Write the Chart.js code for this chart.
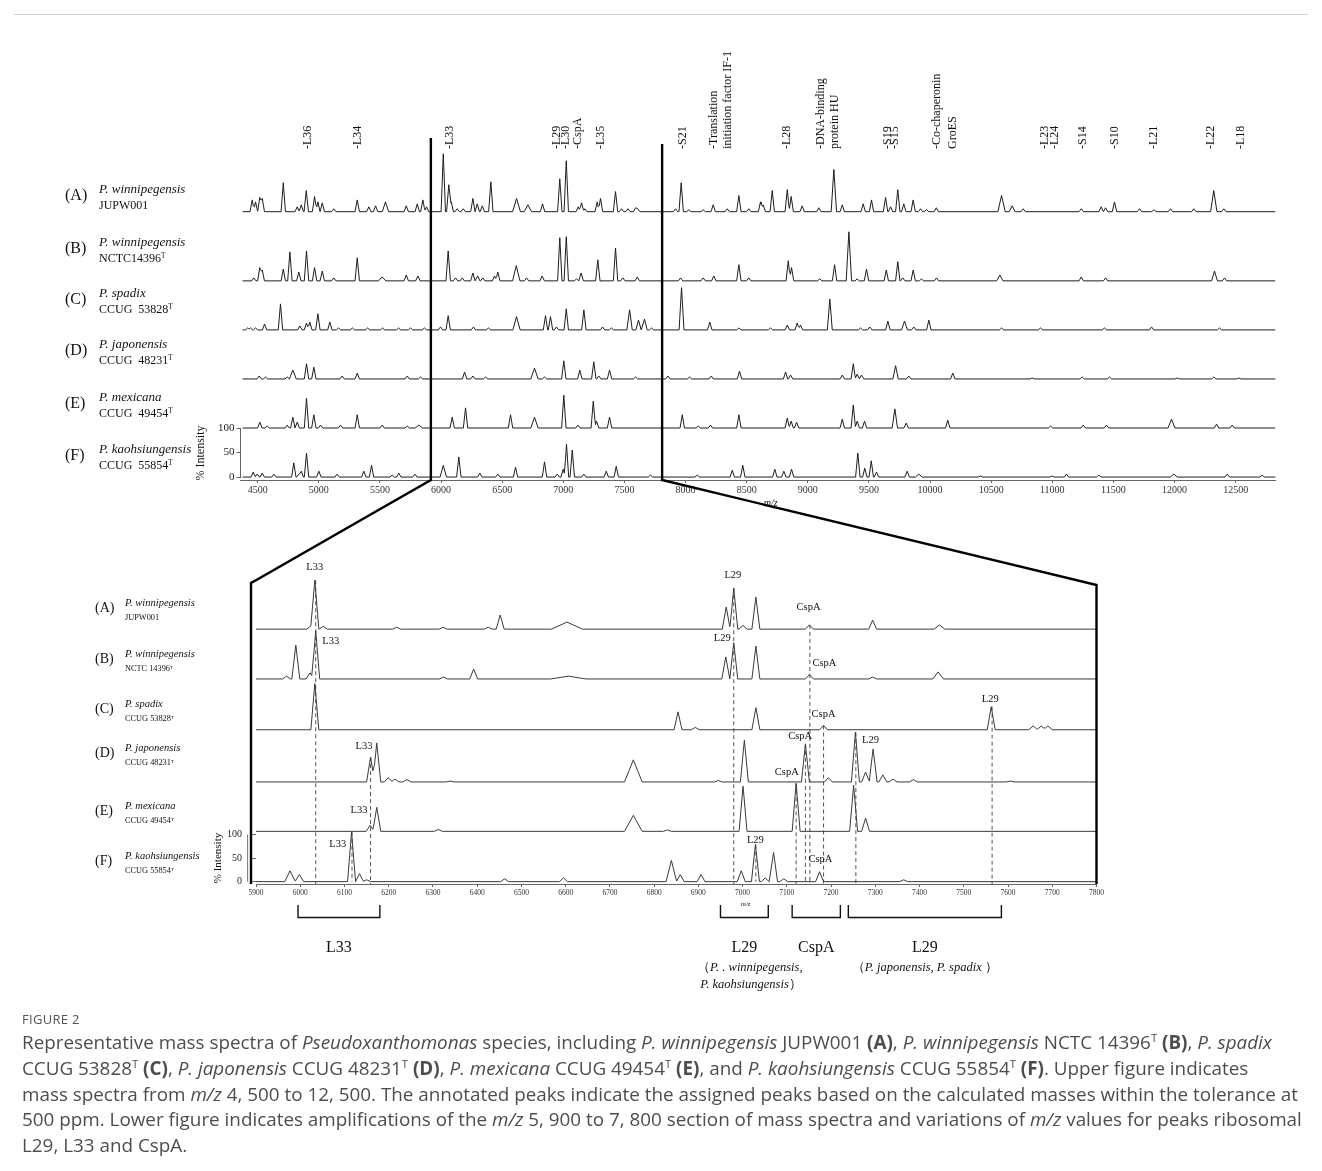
<!DOCTYPE html>
<html>
<head>
<meta charset="utf-8">
<script src="https://cdn.jsdelivr.net/npm/chart.js@4.4.1/dist/chart.umd.min.js"></script>
<style>
html,body{margin:0;padding:0;background:#fff;}
body{width:1322px;height:1171px;position:relative;overflow:hidden;}
canvas{position:absolute;}
.t{position:absolute;white-space:nowrap;font-family:"Liberation Serif","Times New Roman",serif;color:#111;line-height:1;}
.i{font-style:italic;}
.t sup{font-size:0.6em;vertical-align:0.5em;line-height:0;}
#cap{position:absolute;left:22px;top:1030px;font-family:"Open Sans",sans-serif;font-size:18.85px;line-height:25.8px;color:#4d4d4d;white-space:nowrap;}
#cap sup{font-size:0.6em;vertical-align:0.6em;line-height:0;}
#fig{position:absolute;left:22px;top:1011px;font-family:"Open Sans",sans-serif;font-size:13px;color:#555;letter-spacing:0.3px;line-height:16px;}
#topline{position:absolute;left:14px;top:14px;width:1294px;height:0;border-top:1px solid #d0d0d0;}
#ov{position:absolute;left:0;top:0;}
</style>
</head>
<body>
<div id="topline"></div>
<canvas id="cu" width="1100" height="400"></canvas>
<canvas id="cl" width="1000" height="380"></canvas>
<svg id="ov" width="1322" height="1171"></svg>
<div id="fig">FIGURE 2</div>
<div id="cap">Representative mass spectra of <i>Pseudoxanthomonas</i> species, including <i>P. winnipegensis</i> JUPW001 <b>(A)</b>, <i>P. winnipegensis</i> NCTC 14396<sup>T</sup> <b>(B)</b>, <i>P. spadix</i><br>CCUG 53828<sup>T</sup> <b>(C)</b>, <i>P. japonensis</i> CCUG 48231<sup>T</sup> <b>(D)</b>, <i>P. mexicana</i> CCUG 49454<sup>T</sup> <b>(E)</b>, and <i>P. kaohsiungensis</i> CCUG 55854<sup>T</sup> <b>(F)</b>. Upper figure indicates<br>mass spectra from <i>m/z</i> 4, 500 to 12, 500. The annotated peaks indicate the assigned peaks based on the calculated masses within the tolerance at<br>500 ppm. Lower figure indicates amplifications of the <i>m/z</i> 5, 900 to 7, 800 section of mass spectra and variations of <i>m/z</i> values for peaks ribosomal<br>L29, L33 and CspA.</div>
<script>
// ---------------- DATA ----------------
const rowTags = ['(A)','(B)','(C)','(D)','(E)','(F)'];
const species = ['P. winnipegensis','P. winnipegensis','P. spadix','P. japonensis','P. mexicana','P. kaohsiungensis'];
const upperIds = ['JUPW001','NCTC14396<sup>T</sup>','CCUG&nbsp; 53828<sup>T</sup>','CCUG&nbsp; 48231<sup>T</sup>','CCUG&nbsp; 49454<sup>T</sup>','CCUG&nbsp; 55854<sup>T</sup>'];
const lowerIds = ['JUPW001','NCTC 14396<sup>T</sup>','CCUG 53828<sup>T</sup>','CCUG 48231<sup>T</sup>','CCUG 49454<sup>T</sup>','CCUG 55854<sup>T</sup>'];

// upper figure: m/z range and ticks, row offsets (in % intensity units)
const upperRange = [4359, 12826];
const upperTicks = [4500,5000,5500,6000,6500,7000,7500,8000,8500,9000,9500,10000,10500,11000,11500,12000,12500];
const upperOffsets = [541,400,300,200,100,0];
const intensityTicks = [0,50,100];

// peaks: [m/z, % intensity, optional half-width]
const upperA = [[4455,24],[4482,20],[4517,29],[4537,27],[4709,59],[4823,10],[4856,14],[4897,43],[4965,31],[4992,20],[5028,18],[5122,6],[5314,24],[5409,10],[5464,12],[5545,20,26],[5715,12],[5805,16],[5851,24],[5881,10],[6018,118],[6063,55],[6083,20],[6132,6],[6181,6],[6260,27],[6296,16],[6337,12],[6407,61],[6617,27,32],[6710,14,30],[6830,16],[6971,67],[7024,104],[7122,10],[7149,18],[7176,6],[7277,20],[7304,27],[7427,41],[7476,6],[7528,6],[7591,8],[7609,6],[7918,6],[7964,59],[8027,4],[8144,4],[8226,14],[8341,6],[8436,33],[8517,6],[8613,20],[8635,14],[8709,43],[8832,45],[8864,31],[8954,12],[9090,8],[9213,86,22],[9282,14],[9453,16],[9521,24],[9636,29],[9677,10],[9736,45],[9785,16],[9862,24],[9922,6],[9971,4],[10051,8],[10585,33,30],[10672,12,24],[10762,6],[11237,6],[11400,10],[11436,8],[11509,20],[11714,6],[11831,4],[11967,6],[12158,6],[12321,43,26],[12403,6]];
const upperB = [[4468,6],[4517,27],[4537,22],[4709,24],[4763,59],[4836,18],[4899,61],[4965,27],[5028,20],[5122,6],[5314,47],[5518,8,30],[5715,12],[5810,10],[6058,61],[6118,6],[6173,6],[6260,16],[6300,10],[6341,6],[6437,10],[6464,18],[6615,31,30],[6699,6],[6827,10],[6971,88],[7024,90],[7108,4],[7146,16],[7282,43],[7427,67],[7487,6],[7605,8],[7959,6],[8144,6],[8231,10],[8436,33],[8517,6],[8840,41],[8867,27],[9098,4],[9219,33],[9336,100,22],[9404,4],[9480,24],[9642,22],[9736,39],[9777,6],[9862,22],[9930,4],[10053,6],[10571,12,26],[11237,8],[11436,6],[12327,20,24],[12409,6]];
const upperC = [[4417,4],[4441,4],[4482,4],[4556,12],[4686,53],[4844,8],[4899,14],[4926,16],[4992,33],[5090,16],[5161,4],[5275,4],[5398,4],[5521,4],[5652,4],[5750,4],[5864,4],[5995,6],[6058,29],[6265,6],[6388,4],[6617,27,30],[6854,29],[6895,27],[6944,6],[7024,43],[7168,41],[7321,6],[7394,4],[7542,41,22],[7615,20,22],[7664,22,22],[7722,4],[7967,86,20],[8198,16],[8436,4],[8695,4],[8832,10],[8913,14],[8940,10],[9180,63,20],[9431,4],[9507,6],[9655,18],[9791,18,24],[9867,6],[9990,20],[10585,4],[10904,4],[11427,4],[11812,6],[12368,4]];
const upperD = [[4512,6],[4564,4],[4741,4],[4787,18,28],[4899,31],[4959,24],[5191,6],[5314,12],[5723,6],[5832,4],[6192,14],[6260,6],[6364,4],[6764,22,30],[6846,4],[7004,37],[7135,18],[7249,35],[7290,6],[7378,18],[7591,4],[7855,6],[8032,4],[8210,6],[8441,16],[8818,14],[8859,8],[9282,8],[9372,31],[9404,10],[9439,8],[9718,27,22],[9826,6],[10186,12],[10836,2],[11245,4],[11468,4],[12022,2],[12321,4],[12526,2]];
const upperE = [[4517,12],[4578,4],[4741,6],[4787,22],[4823,12],[4899,61],[4959,27],[5014,6],[5177,6],[5314,27],[5518,6],[5723,4],[5818,6,30],[6091,22],[6200,41],[6568,27],[6764,22,30],[7004,67],[7119,6],[7245,55],[7272,14],[7378,22],[7973,27],[8104,4],[8204,6],[8436,27],[8832,20],[8864,14],[8908,12],[9282,18],[9372,47],[9404,14],[9464,14],[9712,39,22],[9805,10],[10145,16],[10986,4],[11253,6],[11444,6],[11975,18,28],[12344,8],[12472,6]];
const upperF = [[4463,10],[4496,6],[4537,8],[4632,6],[4795,29],[4836,6],[4856,12],[4899,49],[5000,12],[5150,6],[5368,12],[5431,24],[5600,4],[5654,8],[5785,6],[6018,24,26],[6145,41],[6317,8],[6464,6],[6609,20],[6846,31],[6950,6],[6999,16],[7026,67],[7073,55],[7168,6],[7351,12],[7433,22],[7713,4],[8095,4],[8382,14],[8468,24],[8730,16],[8804,12],[8867,16],[9409,49],[9466,18],[9519,33],[9562,10],[9813,12],[9908,6,28],[10413,2],[10999,2],[11116,6],[11381,4],[11994,6,28],[12431,6],[12717,4]];

// upper peak annotations (rotated)
const upperLabelText = ['-L36','-L34','-L33','-L29','-L30','-CspA','-L35','-S21','-Translation','initiation factor IF-1','-L28','-DNA-binding','protein HU','-S19','-S15','-Co-chaperonin','GroES','-L23','-L24','-S14','-S10','-L21','-L22','-L18'];
const upperLabelMz = [4899,5308,6061,6944,7010,7108,7296,7967,8221,8335,8818,9096,9214,9644,9709,10045,10176,10936,11010,11239,11501,11820,12294,12532];

// lower (zoomed) figure
const lowerRange = [5900, 7800];
const lowerTicks = [5900,6000,6100,6200,6300,6400,6500,6600,6700,6800,6900,7000,7100,7200,7300,7400,7500,7600,7700,7800];
const lowerOffsets = [537,431,323,212,107,0];
const lowerA = [[6024,7],[6033,104],[6052,6],[6218,4],[6323,4],[6425,4],[6452,30],[6603,15,35],[6963,47],[6980,87],[7001,8],[7030,68],[7151,9],[7294,19],[7445,9,12]];
const lowerB = [[5969,6],[5990,72],[6022,13],[6035,102],[6324,4],[6392,21],[6606,6,40],[6962,47],[6980,77],[7030,70],[7151,9],[7294,4],[7442,15,12]];
const lowerC = [[6033,98],[6854,38],[6893,5],[7030,47],[7183,9],[7562,49],[7657,8,10],[7675,8,10],[7690,8,10]];
const lowerD = [[6159,53],[6173,83],[6199,9],[6214,6],[6241,5],[6339,2],[6753,47,20],[6945,3],[7004,89],[7142,81],[7194,9],[7255,106],[7278,21],[7295,70],[7317,15],[7340,6],[7386,5],[7605,2]];
const lowerE = [[6158,13],[6173,51],[6312,4],[6753,34,20],[6830,3],[7001,96],[7121,102],[7251,98],[7278,28]];
const lowerF = [[5977,23,12],[5998,15,10],[6116,106],[6134,17],[6150,4],[6462,6],[6595,8],[6839,45,12],[6859,15],[6906,15],[6997,23],[7029,79],[7051,8],[7070,62],[7093,6],[7174,21],[7364,4]];

// dashed reference lines in lower figure
const dashMz = [6035,6159,6117,6980,7030,7121,7142,7152,7183,7256,7564];
const dashTop = [641,265,106,624,79,209,293,546,332,318,372];
const dashBottom = [-5,-5,0,-5,0,-5,-5,-5,-5,-5,-5];

// peak annotations in lower figure
const lowerLabelText = ['L33','L33','L33','L33','L33','L29','L29','L29','L29','L29','CspA','CspA','CspA','CspA','CspA','CspA'];
const lowerLabelMz = [6033,6069,6144,6133,6085,6978,6954,7560,7289,7029,7149,7185,7183,7130,7100,7176];
const lowerLabelY = [661,503,280,144,71,644,510,380,293,80,576,456,348,301,224,39];

// brackets under lower figure
const bracketFrom = [5995,6950,7112,7239];
const bracketTo = [6180,7058,7221,7585];
const bracketText = ['L33','L29','CspA','L29'];

// ---------------- BUILD ----------------
function profile(peaks, offset, w0, start, end) {
  const xs = [start, end];
  peaks.forEach(p => { const w = p[2] || w0; xs.push(p[0] - w, p[0], p[0] + w); });
  const ux = Array.from(new Set(xs)).filter(x => x >= start && x <= end).sort((a, b) => a - b);
  return ux.map(x => {
    let y = 0;
    for (const p of peaks) { const w = p[2] || w0; const d = Math.abs(x - p[0]); if (d < w) y += p[1] * (1 - d / w); }
    return {x: x, y: offset + y};
  });
}
const FONT = 'Liberation Serif';
const upperRows = [upperA, upperB, upperC, upperD, upperE, upperF];
const lowerRows = [lowerA, lowerB, lowerC, lowerD, lowerE, lowerF];

const upperDatasets = upperRows.map((r, i) => ({
  data: profile(r, upperOffsets[i], 18, 4376, upperRange[1]),
  borderColor: '#1e1e1e', borderWidth: 1, pointRadius: 0, tension: 0, fill: false
}));
upperDatasets.push({data: [{x: upperRange[0], y: 0}, {x: upperRange[0], y: 100}], borderColor: '#666', borderWidth: 1, pointRadius: 0, clip: false});

const lowerDatasets = lowerRows.map((r, i) => ({
  data: profile(r, lowerOffsets[i], 9, lowerRange[0], lowerRange[1]),
  borderColor: '#3a3a3a', borderWidth: 1, pointRadius: 0, tension: 0, fill: false
}));
dashMz.forEach((m, i) => lowerDatasets.push({
  data: [{x: m, y: dashTop[i]}, {x: m, y: dashBottom[i]}],
  borderColor: '#555', borderWidth: 1, borderDash: [4, 3], pointRadius: 0, clip: false
}));
lowerDatasets.push({data: [{x: 5881, y: 0}, {x: 5881, y: 100}], borderColor: '#777', borderWidth: 1, pointRadius: 0, clip: false});

function axisOpts(range, ticks, ymin, ymax, xFont, yFont, xPad, yPad) {
  return {
    x: {type: 'linear', min: range[0], max: range[1],
      afterBuildTicks: ax => { ax.ticks = ticks.map(v => ({value: v})); },
      grid: {drawOnChartArea: false, drawTicks: true, tickLength: 3, color: '#666'},
      border: {display: true, color: '#666', width: 1},
      ticks: {font: {family: FONT, size: xFont}, color: '#333', padding: xPad, maxRotation: 0, autoSkip: false, callback: v => String(v)}},
    y: {type: 'linear', min: ymin, max: ymax,
      afterBuildTicks: ax => { ax.ticks = intensityTicks.map(v => ({value: v})); },
      grid: {drawOnChartArea: false, drawTicks: true, tickLength: 4, color: '#666'},
      border: {display: false},
      ticks: {font: {family: FONT, size: yFont}, color: '#222', padding: yPad, callback: v => String(v)}}
  };
}
const common = {responsive: false, maintainAspectRatio: false, animation: false, devicePixelRatio: 1, layout: {padding: 0},
  plugins: {legend: {display: false}, tooltip: {enabled: false}}, events: []};

const cu = document.getElementById('cu');
const cl = document.getElementById('cl');
const upper = new Chart(cu, {type: 'line', data: {datasets: upperDatasets},
  options: Object.assign({}, common, {scales: axisOpts(upperRange, upperTicks, -6, 688, 10, 11, 1, 2)})});
const lower = new Chart(cl, {type: 'line', data: {datasets: lowerDatasets},
  options: Object.assign({}, common, {scales: axisOpts(lowerRange, lowerTicks, -5, 684, 7.5, 10, 2, 10)})});

function place(chart, canvas, T) {
  for (let k = 0; k < 3; k++) {
    const a = chart.chartArea;
    const l = a.left, t = a.top, r = chart.width - a.right, b = chart.height - a.bottom;
    chart.resize(Math.round(T.right - T.left + l + r), Math.round(T.bottom - T.top + t + b));
    const a2 = chart.chartArea;
    canvas.style.left = Math.round(T.left - a2.left) + 'px';
    canvas.style.top = Math.round(T.top - a2.top) + 'px';
  }
}
place(upper, cu, {left: 240, right: 1275, top: 140, bottom: 480});
place(lower, cl, {left: 256, right: 1096, top: 560, bottom: 884});

const uL = parseFloat(cu.style.left), uT = parseFloat(cu.style.top);
const lL = parseFloat(cl.style.left), lT = parseFloat(cl.style.top);
const ux = v => uL + upper.scales.x.getPixelForValue(v);
const uy = v => uT + upper.scales.y.getPixelForValue(v);
const lx = v => lL + lower.scales.x.getPixelForValue(v);
const ly = v => lT + lower.scales.y.getPixelForValue(v);

// ---------------- TEXT ----------------
function addText(x, baseline, html, size, o) {
  o = o || {};
  const d = document.createElement('div');
  d.className = 't' + (o.italic ? ' i' : '');
  d.style.fontSize = size + 'px';
  d.innerHTML = html;
  d.style.left = x + 'px';
  d.style.top = (baseline - 0.84 * size) + 'px';
  if (o.center) d.style.transform = 'translateX(-50%)';
  if (o.color) d.style.color = o.color;
  document.body.appendChild(d);
  return d;
}
function addRot(x, bottom, text, size) {
  const d = document.createElement('div');
  d.className = 't';
  d.style.fontSize = size + 'px';
  d.style.lineHeight = size + 'px';
  d.textContent = text;
  d.style.transformOrigin = '0 0';
  d.style.transform = 'rotate(-90deg)';
  d.style.left = (x - size / 2) + 'px';
  d.style.top = bottom + 'px';
  document.body.appendChild(d);
}
function addRotCenter(cx, cy, text, size) {
  const d = document.createElement('div');
  d.className = 't';
  d.style.fontSize = size + 'px';
  d.textContent = text;
  d.style.left = cx + 'px';
  d.style.top = cy + 'px';
  d.style.transform = 'translate(-50%,-50%) rotate(-90deg)';
  document.body.appendChild(d);
}

// upper row labels
const upSpeciesBase = [193, 246, 297, 348, 401, 453];
rowTags.forEach((tag, i) => {
  addText(65, upSpeciesBase[i] + 7, tag, 16);
  addText(99, upSpeciesBase[i], species[i], 13, {italic: true});
  addText(99, upSpeciesBase[i] + 16, upperIds[i], 12);
});
// lower row labels
const loSpeciesBase = [607, 658, 708, 752, 810, 860];
rowTags.forEach((tag, i) => {
  addText(95, loSpeciesBase[i] + 6, tag, 14);
  addText(125, loSpeciesBase[i], species[i], 10.5, {italic: true});
  addText(125, loSpeciesBase[i] + 14, lowerIds[i], 8.3);
});
// upper rotated labels
upperLabelText.forEach((s, i) => addRot(ux(upperLabelMz[i]), 149, s, 12));
// axis titles
addRotCenter(200, (uy(0) + uy(100)) / 2, '% Intensity', 12);
addRotCenter(217, (ly(0) + ly(100)) / 2, '% Intensity', 11);
addText(ux(8500) + 24, 506, 'm/z', 10, {italic: true, center: true});
addText(lx(7000) + 3, 907, 'm/z', 7, {italic: true, center: true});
// lower annotations
lowerLabelText.forEach((s, i) => addText(lx(lowerLabelMz[i]), ly(lowerLabelY[i]), s, 10.5, {center: true}));

// ---------------- OVERLAY LINES ----------------
const svg = document.getElementById('ov');
function line(pts, w, col) {
  const p = document.createElementNS('http://www.w3.org/2000/svg', 'polyline');
  p.setAttribute('points', pts.map(q => q.join(',')).join(' '));
  p.setAttribute('fill', 'none');
  p.setAttribute('stroke', col || '#000');
  p.setAttribute('stroke-width', w);
  p.setAttribute('stroke-linejoin', 'miter');
  svg.appendChild(p);
}
const xl1 = ux(lowerRange[0]) + 2, xl2 = ux(lowerRange[1]) + 1;
const bU = uy(-6), tL = ly(684) + 23, bL = ly(-5);
line([[xl1, 138], [xl1, bU], [lx(lowerRange[0]) - 5, tL], [lx(lowerRange[0]) - 5, bL]], 2.4);
line([[xl2, 144], [xl2, bU], [lx(lowerRange[1]), tL + 2], [lx(lowerRange[1]), bL]], 2.4);

// brackets
bracketFrom.forEach((m, i) => {
  const a = lx(m), b = lx(bracketTo[i]);
  line([[a, 905], [a, 917.5], [b, 917.5], [b, 905]], 1.4, '#111');
  addText((a + b) / 2, 952, bracketText[i], 16, {center: true});
});
addText(lx(6897), 971, '（<i>P. . winnipegensis,</i>', 12.5, {});
addText(lx(6904), 988, '<i>P. kaohsiungensis</i>）', 12.5, {});
addText((lx(7239) + lx(7585)) / 2, 971, '（<i>P. japonensis, P. spadix</i> ）', 12.5, {center: true});
</script>
</body>
</html>
